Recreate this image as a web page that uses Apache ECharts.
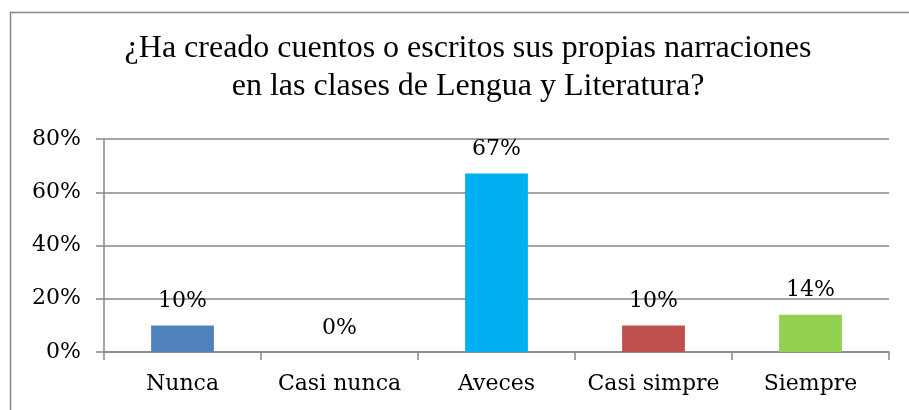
<!DOCTYPE html>
<html>
<head>
<meta charset="utf-8">
<script src="https://cdn.jsdelivr.net/npm/echarts@6/dist/echarts.min.js"></script>
<style>
  html, body { margin: 0; padding: 0; background: #fff; }
  #chart { width: 909px; height: 410px; }
</style>
</head>
<body>
<div id="chart"></div>
<script>
// datos
var categorias = ['Nunca', 'Casi nunca', 'Aveces', 'Casi simpre', 'Siempre']
var valores = [0.10, 0, 0.67, 0.10, 0.14]
var colores = ['#4F81BD', '#4F81BD', '#00B0F0', '#C0504D', '#92D050']
var ticksY = [0, 0.2, 0.4, 0.6, 0.8]

var fuenteTitulo = '"Liberation Serif", "Times New Roman", serif'
var fuente = '"DejaVu Serif", Cambria, serif'
var gris = '#868686'

var myChart = echarts.init(document.getElementById('chart'))
myChart.setOption({
  animation: false,
  title: {
    text: '¿Ha creado cuentos o escritos sus propias narraciones\nen las clases de Lengua y Literatura?',
    left: 463,
    top: 25,
    textAlign: 'center',
    textStyle: {
      fontFamily: fuenteTitulo,
      fontSize: 32,
      fontWeight: 'normal',
      color: '#000',
      lineHeight: 38
    }
  },
  graphic: [{
    type: 'rect',
    shape: { x: 10.5, y: 12.5, width: 920, height: 420 },
    style: { fill: 'none', stroke: gris, lineWidth: 1.5 },
    silent: true
  }],
  grid: { left: 104, right: 20, top: 139, bottom: 58 },
  xAxis: {
    type: 'category',
    data: categorias,
    axisLine: { lineStyle: { color: gris, width: 1.5 } },
    axisTick: { show: true, length: 8, lineStyle: { color: gris, width: 1.5 } },
    axisLabel: { interval: 0, hideOverlap: false, fontFamily: fuente, fontSize: 22, color: '#000', margin: 21 }
  },
  yAxis: {
    type: 'value',
    min: 0,
    max: ticksY[ticksY.length - 1],
    interval: 0.2,
    axisLine: { show: true, lineStyle: { color: gris, width: 1.5 } },
    axisTick: { show: true, length: 8, lineStyle: { color: gris, width: 1.5 } },
    splitLine: { lineStyle: { color: gris, width: 1.5 } },
    axisLabel: {
      fontFamily: fuente,
      fontSize: 22,
      color: '#000',
      margin: 23,
      formatter: function (v) { return Math.round(v * 100) + '%' }
    }
  },
  series: [{
    type: 'bar',
    barWidth: '40%',
    data: valores.map(function (v, i) {
      return { value: v, itemStyle: { color: colores[i] } }
    }),
    label: {
      show: true,
      position: 'top',
      distance: 13,
      fontFamily: fuente,
      fontSize: 22,
      color: '#000',
      formatter: function (p) { return Math.round(p.value * 100) + '%' }
    }
  }]
})
</script>
</body>
</html>
